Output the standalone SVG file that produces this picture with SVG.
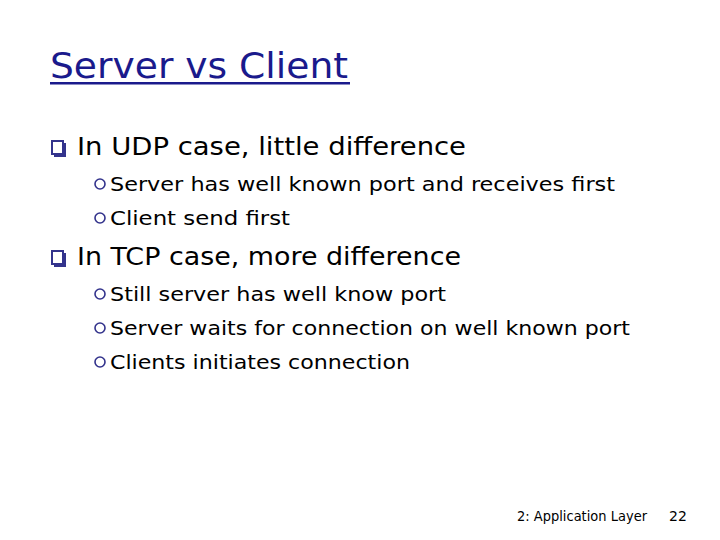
<svg xmlns="http://www.w3.org/2000/svg" width="720" height="540" viewBox="0 0 720 540">
<style>
text{font-family:"DejaVu Sans","Liberation Sans",sans-serif;fill:#000}
.t{font-size:36px;fill:#1a1a8c}
.l1{font-size:24px}
.l2{font-size:20px}
.f{font-size:14px}
.sq{fill:#fff;stroke:#33338c;stroke-width:2}
.sh{fill:#33338c}
.c{fill:#fff;stroke:#33338c;stroke-width:1.6}
</style>
<rect width="720" height="540" fill="#fff"/>
<g id="title">
<text class="t" x="50" y="78" textLength="298" lengthAdjust="spacingAndGlyphs">Server vs Client</text>
<rect x="50" y="82" width="300" height="2.5" fill="#1a1a8c"/>
</g>
<g id="udp">
<rect class="sh" x="54" y="143" width="12" height="14"/>
<rect class="sq" x="52" y="141" width="11" height="13"/>
<text class="l1" x="77" y="155" textLength="389" lengthAdjust="spacingAndGlyphs">In UDP case, little difference</text>
<circle class="c" cx="100" cy="184" r="5"/>
<text class="l2" x="110" y="191" textLength="505" lengthAdjust="spacingAndGlyphs">Server has well known port and receives first</text>
<circle class="c" cx="100" cy="218" r="5"/>
<text class="l2" x="110" y="225" textLength="180" lengthAdjust="spacingAndGlyphs">Client send first</text>
</g>
<g id="tcp">
<rect class="sh" x="54" y="253" width="12" height="14"/>
<rect class="sq" x="52" y="251" width="11" height="13"/>
<text class="l1" x="77" y="265" textLength="384" lengthAdjust="spacingAndGlyphs">In TCP case, more difference</text>
<circle class="c" cx="100" cy="294" r="5"/>
<text class="l2" x="110" y="301" textLength="336" lengthAdjust="spacingAndGlyphs">Still server has well know port</text>
<circle class="c" cx="100" cy="328" r="5"/>
<text class="l2" x="110" y="335" textLength="520" lengthAdjust="spacingAndGlyphs">Server waits for connection on well known port</text>
<circle class="c" cx="100" cy="362" r="5"/>
<text class="l2" x="110" y="369" textLength="300" lengthAdjust="spacingAndGlyphs">Clients initiates connection</text>
</g>
<g id="footer">
<text class="f" x="517" y="521" textLength="130" lengthAdjust="spacingAndGlyphs">2: Application Layer</text>
<text class="f" x="669" y="521">22</text>
</g>
</svg>
